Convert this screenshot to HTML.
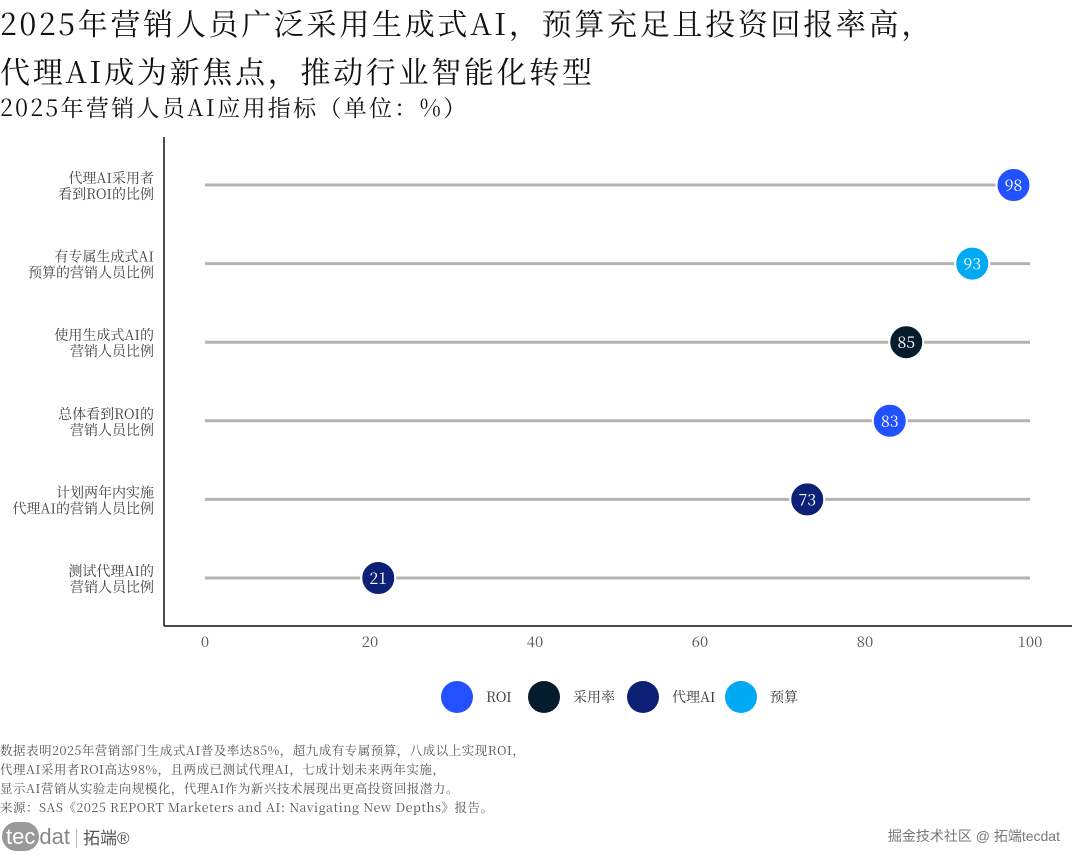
<!DOCTYPE html>
<html><head><meta charset="utf-8">
<style>
body{margin:0;width:1080px;height:864px;background:#fff;overflow:hidden;font-family:"Noto Serif CJK SC","Liberation Serif",serif;color:#111;position:relative}
.t{position:absolute;left:0px;white-space:nowrap}
#title{top:-2px;font-size:30px;line-height:48px;letter-spacing:2.7px}
#sub{top:90px;font-size:23px;line-height:34px;letter-spacing:2.3px}
#notes{top:741px;font-size:12.5px;line-height:19px;color:#555;letter-spacing:0.5px}
#logo{position:absolute;left:2px;top:824px;font-family:"Liberation Sans","Noto Sans CJK SC",sans-serif;font-size:22px;color:#888}
#wm{position:absolute;right:20px;top:826px;font-family:"Liberation Sans","Noto Sans CJK SC",sans-serif;font-size:14px;color:#777}
svg{position:absolute;left:0;top:0}
</style></head><body>
<div class="t" id="title">2025年营销人员广泛采用生成式AI，预算充足且投资回报率高，<br>代理AI成为新焦点，推动行业智能化转型</div>
<div class="t" id="sub">2025年营销人员AI应用指标（单位：%）</div>
<svg id="chart" width="1080" height="864"></svg>
<div class="t" id="notes">数据表明2025年营销部门生成式AI普及率达85%，超九成有专属预算，八成以上实现ROI，<br>代理AI采用者ROI高达98%，且两成已测试代理AI，七成计划未来两年实施，<br>显示AI营销从实验走向规模化，代理AI作为新兴技术展现出更高投资回报潜力。<br>来源：SAS《2025 REPORT Marketers and AI: Navigating New Depths》报告。</div>
<div id="logo"><span style="background:#999;color:#fff;border-radius:18px;padding:2px 4px">tec</span>dat <span style="border-left:1px solid #bbb;padding-left:6px;font-size:17px;color:#555">拓端®</span></div>
<div id="wm">掘金技术社区 @ 拓端tecdat</div>
<script>
const categories=[["代理AI采用者","看到ROI的比例"],["有专属生成式AI","预算的营销人员比例"],["使用生成式AI的","营销人员比例"],["总体看到ROI的","营销人员比例"],["计划两年内实施","代理AI的营销人员比例"],["测试代理AI的","营销人员比例"]];
const values=[98,93,85,83,73,21];
const groups=["ROI","预算","采用率","ROI","代理AI","代理AI"];
const legendLabels=["ROI","采用率","代理AI","预算"];
const legendColors=["#2251ff","#051c2c","#0c2175","#00a9f4"];
const xTicks=[0,20,40,60,80,100];
const svg=document.getElementById('chart');
const NS='http://www.w3.org/2000/svg';
const x=v=>205+v*8.25;
const y=i=>185+i*78.6;
function mk(t,a,p){const e=document.createElementNS(NS,t);for(const k in a)e.setAttribute(k,a[k]);(p||svg).appendChild(e);return e;}
const colorOf=g=>legendColors[legendLabels.indexOf(g)];
let ax=mk('line',{x1:164,y1:137,x2:164,y2:626,stroke:'#111','stroke-width':1.5});

let bx=mk('line',{x1:164,y1:626,x2:1072,y2:626,stroke:'#111','stroke-width':1.5});

xTicks.forEach(t=>{const e=mk('text',{x:x(t),y:647,'text-anchor':'middle','font-size':15,fill:'#555'});e.textContent=t;
});
categories.forEach((c,i)=>{
 const l=mk('text',{x:154,'text-anchor':'end','font-size':14,fill:'#444'});
 
 c.forEach((s,j)=>{const ts=mk('tspan',{x:154,y:y(i)-2+j*16},l);ts.textContent=s;});
 const ln=mk('line',{x1:x(0),y1:y(i),x2:x(100),y2:y(i),stroke:'#b3b3b3','stroke-width':3});
 
 const g=mk('g',{});
 
 mk('circle',{cx:x(values[i]),cy:y(i),r:17,fill:colorOf(groups[i]),stroke:'#fff','stroke-width':2},g);
 const tx=mk('text',{x:x(values[i]),y:y(i)+6,'text-anchor':'middle','font-size':16,fill:'#fff'},g);tx.textContent=values[i];
});
const lx=[457,544,643,741];
legendLabels.forEach((s,i)=>{const g=mk('g',{});
 
 mk('circle',{cx:lx[i],cy:697,r:16,fill:legendColors[i]},g);
 const t=mk('text',{x:lx[i]+29,y:702,'font-size':14,fill:'#333'},g);t.textContent=s;});
</script>
</body></html>
